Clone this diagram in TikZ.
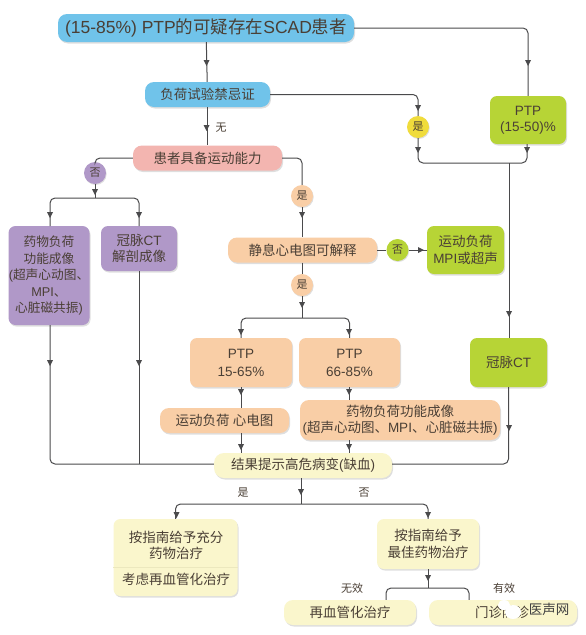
\documentclass[tikz,border=0pt]{standalone}
\usepackage{fontspec}
\setmainfont{Liberation Sans}
\newfontfamily\cjk{Noto Sans CJK SC}
\newcommand{\zh}[1]{{\cjk #1}}
\usetikzlibrary{shadows,calc}
\definecolor{cblue}{HTML}{70C3EA}
\definecolor{cpink}{HTML}{F3B5B0}
\definecolor{cpurple}{HTML}{B098C8}
\definecolor{cgreen}{HTML}{B7D436}
\definecolor{corange}{HTML}{F9CEA6}
\definecolor{ccream}{HTML}{FAF6CC}
\definecolor{cyellow}{HTML}{F0DC3C}
\definecolor{cline}{HTML}{4A4A4C}
\definecolor{ctext}{HTML}{4A3F35}
\definecolor{csep}{HTML}{ECE8BE}
\tikzset{
 x=1pt,y=-1pt,
 boxx/.style={rounded corners=7pt,align=center,inner sep=0pt,text=ctext,font=\fontsize{13.5}{16.5}\selectfont,
   drop shadow={shadow xshift=1pt,shadow yshift=-1.5pt,fill=black,opacity=.13}},
 sized/.style args={#1/#2}{minimum width=#1pt,minimum height=#2pt},
 dot/.style={circle,minimum size=22pt,inner sep=0pt,text=ctext,font=\fontsize{11}{13}\selectfont,
   drop shadow={shadow xshift=.7pt,shadow yshift=-1pt,fill=black,opacity=.13}},
 conn/.style={draw=cline,line width=1pt,rounded corners=5pt},
 lab/.style={text=ctext,font=\fontsize{11}{13}\selectfont,inner sep=0pt},
}
\newcommand{\tipdown}[1]{\fill[cline] ($(#1)+(-3,-3)$) -- ($(#1)+(3,-3)$) -- ($(#1)+(0,3)$) -- cycle;}
\newcommand{\tipright}[1]{\fill[cline] ($(#1)+(-3,-3)$) -- ($(#1)+(-3,3)$) -- ($(#1)+(3,0)$) -- cycle;}
\begin{document}
\begin{tikzpicture}
\useasboundingbox (0,0) rectangle (586,635);
\fill[white] (0,0) rectangle (586,635);

\coordinate (mergeL) at (418,163);
\coordinate (mergeR) at (527,163);
\coordinate (mergeD) at (509,163);
\coordinate (bl) at (50,464);
\coordinate (br) at (509,464);

% boxes
\node[boxx,fill=cblue,sized=296/28,rounded corners=9pt,font=\fontsize{17.5}{20}\selectfont] (main) at (206,28) {(15-85\%) PTP\zh{的可疑存在}SCAD\zh{患者}};
\node[boxx,fill=cblue,sized=125/25,rounded corners=9pt] (contra) at (207.5,94.5) {\zh{负荷试验禁忌证}};
\node[boxx,fill=cgreen,sized=76/48] (p1550) at (528,120) {PTP\\(15-50)\%};
\node[dot,fill=cyellow] (yes1) at (418,127) {\zh{是}};
\node[boxx,fill=cpink,sized=149/25,rounded corners=9pt] (able) at (207.5,158) {\zh{患者具备运动能力}};
\node[dot,fill=cpurple] (no1) at (95,173) {\zh{否}};
\node[dot,fill=corange] (yes2) at (302,196) {\zh{是}};
\node[boxx,fill=cpurple,sized=81/99,font=\fontsize{12.7}{16.5}\selectfont] (drug) at (49,275.5) {\zh{药物负荷}\\\zh{功能成像}\\(\zh{超声心动图、}\\MPI\zh{、}\\\zh{心脏磁共振})};
\node[boxx,fill=cpurple,sized=76/45] (ctp) at (139,248.5) {\zh{冠脉}CT\\\zh{解剖成像}};
\node[boxx,fill=corange,sized=149/25,rounded corners=9pt] (ecg) at (302.5,250) {\zh{静息心电图可解释}};
\node[dot,fill=cgreen] (no2) at (397.5,250) {\zh{否}};
\node[boxx,fill=cgreen,sized=77/48] (mpi) at (465.5,250) {\zh{运动负荷}\\MPI\zh{或超声}};
\node[dot,fill=corange] (yes3) at (302,285) {\zh{是}};
\node[boxx,fill=corange,sized=102/49,font=\fontsize{13.5}{18}\selectfont] (p1565) at (241,362.5) {PTP\\15-65\%};
\node[boxx,fill=corange,sized=101/49,font=\fontsize{13.5}{18}\selectfont] (p6685) at (349.5,362.5) {PTP\\66-85\%};
\node[boxx,fill=cgreen,sized=77/49] (ctg) at (508.5,362.5) {\zh{冠脉}CT};
\node[boxx,fill=corange,sized=129/25,rounded corners=9pt] (exer) at (224.5,420.5) {\zh{运动负荷 心电图}};
\node[boxx,fill=corange,sized=200/40,rounded corners=9pt] (stress) at (400,420) {\zh{药物负荷功能成像}\\(\zh{超声心动图、}MPI\zh{、心脏磁共振})};
\node[boxx,fill=ccream,sized=178/25,rounded corners=10pt] (res) at (303,465.5) {\zh{结果提示高危病变}(\zh{缺血})};
\node[boxx,fill=ccream,sized=124/77] (tl) at (175.5,557.5) {};
\node[lab,font=\fontsize{13.5}{16}\selectfont,align=center] (tlA) at (176,545) {\zh{按指南给予充分}\\\zh{药物治疗}};
\node[lab,font=\fontsize{13.5}{16}\selectfont] (tlB) at (176,579) {\zh{考虑再血管化治疗}};
\node[boxx,fill=ccream,sized=102/50] (tr) at (428,544) {\zh{按指南给予}\\\zh{最佳药物治疗}};
\node[boxx,fill=ccream,sized=132/25,rounded corners=9pt] (rev) at (350,612.5) {\zh{再血管化治疗}};
\node[boxx,fill=ccream,sized=148/25,rounded corners=9pt] (opd) at (503,612.5) {};
\node[lab,font=\fontsize{13.5}{16}\selectfont] (opdt) at (502,612) {\zh{门诊随诊}};
\draw[csep,line width=.6pt] (tl.west |- 0,567) -- (tl.east |- 0,567);

% connectors
\draw[conn] (main) -- (contra);
\draw[conn] (main.east) -| (p1550.north);
\draw[conn] (contra) -- (able.north -| contra);
\draw[conn] (contra.east) -| (yes1.north);
\draw[conn] (yes1.south) |- (mergeR) -- (p1550.south -| mergeR);
\draw[conn] (mergeD) -- (ctg.north -| mergeD);
\draw[conn] (able.west) -| (no1.north);
\draw[conn] (no1.south) -- (95,198);
\draw[conn] (50,226) |- (139,198) -- (139,226);
\draw[conn] (able.east) -| (yes2.north);
\draw[conn] (yes2.south) -- (ecg.north -| yes2);
\draw[conn] (ecg.east) -- (no2.west);
\draw[conn] (no2.east) -- (mpi.west);
\draw[conn] (ecg.south -| yes3) -- (yes3.north);
\draw[conn] (yes3.south) -- (302,318);
\draw[conn] (p1565.north) |- (p6685.north |- 0,318) -- (p6685.north);
\draw[conn] (p1565.south) -- (exer.north -| p1565);
\draw[conn] (p6685.south) -- (stress.north -| p6685);
\draw[conn] (exer.south -| p1565) -- (res.north -| p1565);
\draw[conn] (stress.south -| p6685) -- (res.north -| p6685);
\draw[conn] (drug.south -| bl) |- (res.west |- 0,464);
\draw[conn] (ctp.south) -- (ctp.south |- 0,464);
\draw[conn] (ctg.south) |- (res.east |- 0,464);
\draw[conn] (res.south -| 301,0) -- (301,504);
\draw[conn] (tl.north) |- (tr.north |- 0,504) -- (tr.north);
\draw[conn] (tr.south) -- (428,588);
\draw[conn] (rev.north -| 386,0) |- (469,588) -- (opd.north -| 469,0);

% arrow tips along the lines
\tipdown{206.5,63}\tipdown{528,63}
\tipdown{418,108}\tipdown{206.5,128}
\tipdown{418,150}\tipdown{527,150}
\tipdown{95,192}\tipdown{50,215}\tipdown{139,215}\tipdown{302,215}
\tipright{421,250}
\tipdown{302,305}\tipdown{241,332}\tipdown{349,332}
\tipdown{509,314}\tipdown{50,363}\tipdown{139,363}
\tipdown{241,392}\tipdown{349,392}\tipdown{509,428}
\tipdown{241,447}\tipdown{349,447}
\tipdown{301,492}\tipdown{176.5,515}\tipdown{428,515}\tipdown{428,578}

% labels
\node[lab] (wu) at (221,128) {\zh{无}};
\node[lab] (shi) at (243,493) {\zh{是}};
\node[lab] (fou) at (364,493) {\zh{否}};
\node[lab] (wx) at (352,588) {\zh{无效}};
\node[lab] (yx) at (504,588) {\zh{有效}};

% watermark
\fill[white] (504,605) ellipse (6 and 5);
\fill[white] (513,612) ellipse (8 and 7);
\node[lab,font=\fontsize{13.5}{15}\selectfont,text=black!75] (wm) at (549,609) {\zh{医声网}};
\end{tikzpicture}
\end{document}
